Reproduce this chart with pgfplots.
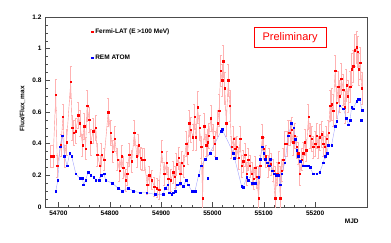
\documentclass[border=0pt]{standalone}
\usepackage{fontspec}
\setmainfont{Liberation Sans}
\usepackage{pgfplots}
\usepackage{pgfplotstable}
\pgfplotsset{compat=1.18}

% Fermi-LAT light curve: MJD, flux, error
\pgfplotstableread{
x y e
54685 0.32 0.07
54690 0.32 0.07
54695 0.71 0.10
54698 0.26 0.07
54705 0.39 0.07
54709 0.57 0.08
54712 0.32 0.07
54716 0.41 0.08
54724 0.79 0.10
54727 0.50 0.08
54730 0.47 0.08
54734 0.48 0.08
54739 0.58 0.08
54742 0.53 0.08
54747 0.39 0.07
54750 0.51 0.08
54753 0.37 0.07
54756 0.64 0.10
54760 0.55 0.08
54763 0.41 0.08
54768 0.48 0.08
54773 0.50 0.08
54776 0.33 0.07
54781 0.26 0.07
54784 0.33 0.07
54789 0.30 0.07
54797 0.60 0.09
54802 0.47 0.08
54806 0.35 0.07
54810 0.43 0.08
54815 0.30 0.07
54819 0.23 0.07
54823 0.32 0.07
54826 0.25 0.07
54831 0.17 0.07
54834 0.21 0.07
54838 0.33 0.07
54843 0.29 0.07
54848 0.47 0.08
54853 0.32 0.07
54856 0.39 0.07
54860 0.31 0.07
54863 0.30 0.07
54867 0.30 0.07
54873 0.14 0.06
54877 0.20 0.06
54882 0.17 0.06
54887 0.13 0.06
54892 0.12 0.06
54896 0.11 0.06
54901 0.35 0.07
54906 0.21 0.07
54911 0.28 0.07
54914 0.18 0.07
54919 0.17 0.07
54924 0.22 0.07
54927 0.19 0.07
54930 0.27 0.07
54934 0.31 0.07
54937 0.21 0.07
54940 0.28 0.07
54944 0.26 0.07
54949 0.40 0.08
54952 0.34 0.07
54955 0.53 0.08
54958 0.49 0.08
54962 0.44 0.08
54965 0.57 0.08
54968 0.44 0.08
54971 0.63 0.10
54975 0.50 0.08
54978 0.38 0.07
54981 0.055 0.20
54984 0.51 0.08
54988 0.39 0.07
54991 0.41 0.08
54993 0.45 0.08
54997 0.56 0.08
55002 0.44 0.08
55005 0.40 0.08
55010 0.53 0.08
55013 0.61 0.10
55016 0.86 0.10
55019 0.80 0.10
55021 0.92 0.10
55024 0.75 0.10
55027 0.53 0.08
55031 0.80 0.10
55034 0.64 0.10
55037 0.38 0.07
55041 0.43 0.08
55044 0.37 0.07
55047 0.38 0.07
55051 0.31 0.07
55054 0.43 0.08
55057 0.26 0.07
55060 0.29 0.07
55064 0.33 0.07
55067 0.21 0.07
55070 0.30 0.07
55073 0.26 0.07
55077 0.21 0.07
55080 0.18 0.07
55083 0.25 0.07
55086 0.19 0.07
55090 0.055 0.20
55093 0.26 0.07
55097 0.44 0.08
55100 0.37 0.07
55104 0.32 0.07
55108 0.26 0.07
55111 0.30 0.07
55114 0.27 0.07
55118 0.23 0.07
55122 0.055 0.20
55126 0.21 0.07
55129 0.28 0.07
55132 0.055 0.20
55135 0.23 0.07
55138 0.30 0.07
55141 0.40 0.08
55145 0.40 0.08
55148 0.47 0.08
55151 0.47 0.08
55154 0.49 0.08
55157 0.41 0.08
55160 0.45 0.08
55164 0.38 0.07
55167 0.34 0.07
55170 0.21 0.07
55174 0.30 0.07
55177 0.34 0.07
55180 0.41 0.08
55183 0.36 0.07
55187 0.57 0.08
55190 0.45 0.08
55193 0.43 0.08
55196 0.38 0.07
55200 0.40 0.08
55203 0.45 0.08
55206 0.38 0.07
55209 0.44 0.08
55213 0.46 0.08
55216 0.40 0.08
55219 0.38 0.07
55222 0.43 0.08
55226 0.47 0.08
55229 0.64 0.10
55232 0.65 0.10
55235 0.61 0.10
55239 0.86 0.10
55242 0.66 0.10
55245 0.76 0.10
55248 0.70 0.10
55251 0.81 0.10
55255 0.74 0.10
55258 0.63 0.10
55261 0.77 0.10
55264 0.70 0.10
55268 0.76 0.10
55271 0.87 0.10
55274 0.89 0.10
55277 0.99 0.10
55281 1.01 0.10
55283 0.98 0.10
55285 0.87 0.10
55288 0.91 0.10
55291 0.75 0.10
}\fermi

% REM ATOM optical light curve
\pgfplotstableread{
x y
54695 0.10
54699 0.17
54703 0.38
54708 0.45
54712 0.32
54717 0.26
54722 0.34
54726 0.32
54734 0.21
54742 0.18
54747 0.18
54749 0.14
54753 0.17
54758 0.22
54763 0.20
54769 0.19
54773 0.17
54779 0.17
54784 0.20
54789 0.21
54792 0.17
54805 0.15
54816 0.12
54825 0.10
54836 0.12
54846 0.10
54859 0.09
54872 0.09
54888 0.08
54904 0.08
54908 0.12
54913 0.14
54916 0.09
54921 0.08
54924 0.09
54927 0.10
54932 0.14
54937 0.15
54943 0.13
54949 0.17
54953 0.14
54960 0.10
54966 0.10
54973 0.20
54978 0.26
54986 0.30
54995 0.34
55017 0.48
55019 0.49
55041 0.34
55043 0.31
55057 0.13
55060 0.125
55067 0.19
55070 0.17
55077 0.15
55083 0.15
55090 0.19
55093 0.30
55097 0.38
55100 0.34
55103 0.30
55107 0.28
55110 0.26
55113 0.30
55116 0.23
55120 0.21
55123 0.20
55126 0.20
55129 0.20
55132 0.14
55135 0.21
55141 0.28
55148 0.45
55154 0.53
55158 0.50
55161 0.43
55164 0.36
55167 0.32
55171 0.29
55177 0.26
55180 0.26
55187 0.26
55190 0.25
55196 0.21
55203 0.21
55209 0.22
55216 0.28
55219 0.32
55223 0.34
55226 0.39
55232 0.39
55239 0.51
55242 0.54
55248 0.64
55255 0.62
55261 0.56
55265 0.52
55268 0.55
55271 0.63
55274 0.62
55281 0.67
55284 0.68
55287 0.68
55291 0.61
}\rem

% REM points off the joined line
\pgfplotstableread{
x y
54991 0.18
55008 0.31
55290 0.55
}\remextra

\begin{document}
\begin{tikzpicture}
\begin{axis}[
  width=322pt, height=190pt, scale only axis,
  xmin=54674, xmax=55301, ymin=0, ymax=1.2,
  xtick={54700,54800,...,55200}, minor x tick num=4,
  ytick={0,0.2,...,1.2}, minor y tick num=3,
  scaled x ticks=false,
  tick align=inside, tick pos=left,
  major tick length=5pt, minor tick length=2.5pt,
  axis line style={black!70, line width=0.5pt},
  every tick/.style={black!70, line width=0.4pt},
  ticklabel style={font=\fontsize{6.5}{7}\selectfont\bfseries},
  /pgf/number format/assume math mode=true,
  /pgf/number format/set thousands separator={},
  xlabel={MJD},
  x label style={at={(axis description cs:0.985,-0.045)}, anchor=north east,
    font=\fontsize{6.5}{7}\selectfont\bfseries},
  ylabel={Flux/Flux\_max},
  y label style={at={(axis description cs:-0.07,0.516)}, anchor=center,
    font=\fontsize{6.5}{7}\selectfont\bfseries},
  legend style={at={(axis description cs:0.135,0.855)}, anchor=west,
    draw=none, fill=none, row sep=16pt,
    font=\fontsize{6.5}{7}\selectfont\bfseries,
    /tikz/every even column/.append style={column sep=9pt}},
  legend cell align=left,
  legend image code/.code={\draw[#1] plot coordinates {(0pt,0pt)};},
]

% Fermi-LAT
\addplot[red!45, line width=0.4pt, forget plot,
  error bars/.cd, y dir=both, y explicit,
  error bar style={red!30, line width=0.7pt}, error mark options={red!30, mark size=1pt, rotate=90}]
  table[x=x, y=y, y error=e] {\fermi};
\addplot[only marks, mark=square*, mark size=0.7pt, red, forget plot]
  table[x=x, y=y] {\fermi};

% REM ATOM
\addplot[blue!35, line width=0.4pt, forget plot] table[x=x, y=y] {\rem};
\addplot[only marks, mark=square*, mark size=0.85pt, blue, forget plot]
  table[x=x, y=y] {\rem};
\addplot[only marks, mark=square*, mark size=0.85pt, blue, forget plot]
  table[x=x, y=y] {\remextra};

\addlegendimage{only marks, mark=square*, mark size=0.8pt, red}
\addlegendentry{Fermi-LAT (E >100 MeV)}
\addlegendimage{only marks, mark=square*, mark size=0.8pt, blue}
\addlegendentry{REM ATOM}

\node[draw=red, text=red, line width=0.6pt, inner sep=0pt,
  minimum width=72pt, minimum height=20pt,
  font=\fontsize{11}{12}\selectfont] at (rel axis cs:0.761,0.892) {Preliminary};
\end{axis}
\pgfresetboundingbox
\useasboundingbox (-45pt,-35pt) rectangle (346pt,207pt);
\end{tikzpicture}
\end{document}
